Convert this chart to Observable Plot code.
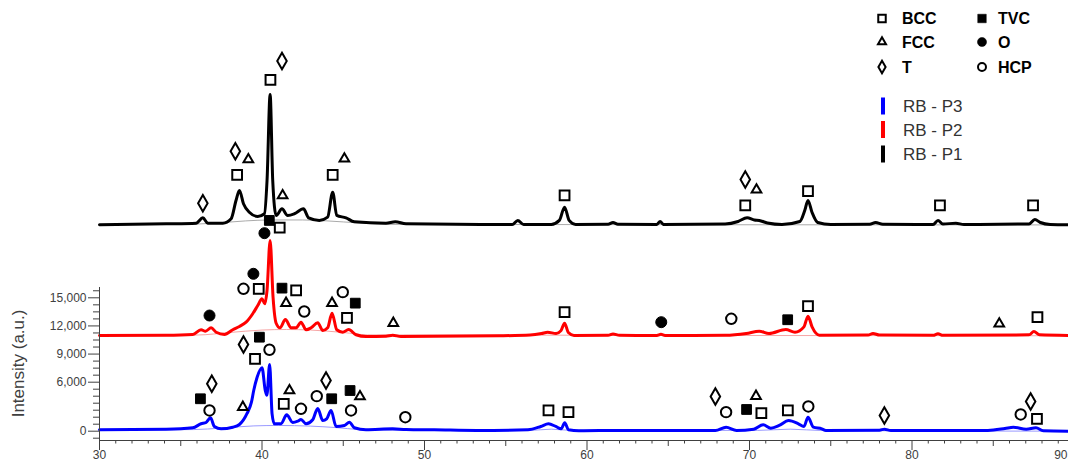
<!DOCTYPE html>
<html>
<head>
<meta charset="utf-8">
<script src="https://cdn.jsdelivr.net/npm/d3@7"></script>
<script src="https://cdn.jsdelivr.net/npm/@observablehq/plot@0.6"></script>
<style>
  body { margin: 0; background: #fff; }
  #chart { position: relative; width: 1068px; height: 463px; overflow: hidden;
           font-family: "Liberation Sans", Arial, sans-serif; }
  #chart svg { display: block; }
  .legend { position: absolute; left: 0; top: 0; pointer-events: none; }
</style>
</head>
<body>
<div id="chart"></div>
<script>
// ---- axes ----
const angleTicks = [30, 40, 50, 60, 70, 80, 90];
const angleMidTicks = [35, 45, 55, 65, 75, 85];
const intensityTicks = [0, 6000, 9000, 12000, 15000];

// ---- series ----
const seriesNames = ["RB - P3", "RB - P2", "RB - P1"];
const seriesColors = ["#0000ff", "#ff0000", "#000000"];
const backgroundColors = ["#9a9aff", "#f6a5a5", "#aaaaaa"];

// RB - P1 (2θ, counts), offset pattern on top
const p1 = [
  [30, 22800], [34.1, 22890], [35.95, 22960], [36.36, 23530], [36.66, 22960],
  [37.59, 22960], [38.1, 23430], [38.4, 25380], [38.61, 26450], [38.86, 25030],
  [39.22, 24130], [39.74, 23670], [40.15, 23960], [40.31, 27510], [40.5, 36680],
  [40.66, 27510], [40.87, 23780], [41.23, 24490], [41.58, 23780], [41.99, 23960],
  [42.55, 24490], [42.87, 23530], [43.53, 23250], [44.04, 23600], [44.35, 26260],
  [44.6, 23780], [45.17, 23530], [45.68, 23100], [47.63, 22960], [48.2, 23110],
  [48.86, 22890], [54.6, 22820], [55.4, 22820], [55.74, 23250], [56.1, 22820],
  [57.8, 22820], [58.3, 23250], [58.62, 24660], [58.9, 23250], [59.3, 22820],
  [61.3, 22850], [61.6, 23030], [61.9, 22850], [64.3, 22820], [64.5, 23140],
  [64.7, 22820], [68.5, 22870], [69.3, 23140], [69.85, 23530], [70.3, 23300],
  [70.6, 23250], [71.1, 22980], [72.0, 22820], [73.1, 23140], [73.4, 24310],
  [73.6, 25380], [73.85, 24100], [74.2, 23030], [75.0, 22820], [77.4, 22850],
  [77.76, 23030], [78.2, 22850], [81.3, 22820], [81.6, 23250], [81.9, 22870],
  [82.7, 22950], [83.2, 22820], [87.2, 22870], [87.56, 23350], [87.9, 23030],
  [88.5, 22820], [90, 22770]
];
const p1Background = [
  [30, 22800], [35, 22820], [37, 22950], [39, 23200], [40.5, 23300], [42.5, 23300],
  [44, 23200], [46, 22980], [48, 22830], [90, 22770]
];

// RB - P2
const p2 = [
  [30, 10980], [34.1, 11010], [35.74, 11090], [36.25, 11590], [36.52, 11440],
  [36.87, 11800], [37.18, 11330], [37.69, 11090], [38.2, 11590], [38.61, 11940],
  [39.02, 12400], [39.43, 13300], [39.74, 14180], [40.0, 14900], [40.17, 14360],
  [40.31, 15780], [40.5, 21110], [40.68, 15070], [40.87, 12290], [41.11, 11800],
  [41.44, 12690], [41.79, 11800], [42.1, 11800], [42.4, 12400], [42.71, 11590],
  [43.02, 11800], [43.43, 12340], [43.74, 11510], [44.04, 11800], [44.31, 13360],
  [44.6, 11590], [44.97, 11330], [45.33, 11620], [45.79, 11060], [46.4, 10870],
  [47.63, 10910], [48.04, 11010], [48.55, 10870], [54.6, 10950], [56.5, 11030],
  [57.2, 11190], [57.58, 11330], [58.1, 11190], [58.4, 11500], [58.62, 12290],
  [58.85, 11300], [59.2, 10990], [61.3, 11000], [61.6, 11140], [62.0, 11000],
  [64.3, 10990], [64.55, 11110], [64.8, 10990], [68.5, 11000], [69.8, 11190],
  [70.6, 11440], [71.2, 11190], [72.23, 11620], [72.8, 11330], [73.35, 11900],
  [73.6, 13040], [73.85, 11900], [74.3, 11010], [77.3, 11030], [77.6, 11200],
  [78.0, 11030], [81.3, 11000], [81.6, 11160], [81.9, 11000], [87.2, 11050],
  [87.5, 11400], [87.85, 11050], [90, 10980]
];
const p2Background = [
  [30, 10980], [36, 11030], [38, 11300], [40, 11560], [41.5, 11620], [43, 11560],
  [45, 11300], [46.5, 11050], [90, 10950]
];

// RB - P3
const p3 = [
  [30, 170], [34.1, 245], [35.74, 420], [36.25, 910], [36.56, 1070], [36.83, 1640],
  [37.07, 580], [37.48, 290], [38.2, 490], [38.61, 820], [39.08, 2170], [39.35, 3550],
  [39.49, 4980], [39.7, 6530], [40.0, 7540], [40.2, 5000], [40.3, 4400], [40.47, 7900],
  [40.62, 2130], [40.76, 910], [41.17, 910], [41.52, 2010], [41.89, 1070], [42.2, 1230],
  [42.4, 1430], [42.71, 910], [43.12, 1400], [43.43, 2780], [43.74, 1310], [43.98, 1520],
  [44.25, 2540], [44.56, 580], [45.07, 700], [45.38, 1100], [45.68, 420], [46.4, 170],
  [48.04, 290], [48.86, 210], [50.6, 170], [53.2, 90], [56.37, 170], [57.16, 580],
  [57.63, 910], [58.08, 580], [58.41, 290], [58.63, 1030], [58.86, 170], [59.5, 60],
  [62, 90], [67.9, 90], [68.56, 490], [69.2, 90], [70.26, 250], [70.84, 780],
  [71.31, 370], [71.83, 700], [72.41, 1310], [73.01, 910], [73.35, 580], [73.6, 1710],
  [73.93, 490], [74.45, 290], [74.7, 90], [78.0, 120], [78.3, 250], [78.7, 90],
  [84.67, 90], [85.72, 330], [86.24, 490], [87.03, 250], [87.63, 420], [88.08, 50],
  [90, 0]
];
const p3Background = [
  [30, 150], [35.8, 200], [37.5, 380], [39.5, 650], [41, 700], [43, 620], [44.5, 450],
  [46, 200], [48, 100], [56.5, 100], [57.8, 250], [59, 100], [70.5, 100], [72.5, 250],
  [74.5, 80], [90, 0]
];

// ---- phase identification ----
const phaseNames   = ["BCC", "FCC", "T", "TVC", "O", "HCP"];
const phaseSymbols = ["square", "triangle", "diamond", "square", "circle", "circle"];
const phaseFilled  = [false, false, false, true, true, false];
const phaseRadius  = [5.5, 3.6, 5, 5.5, 5.5, 5.2];

// peak labels: [phase, 2θ, label height]
const p1Peaks = [
  ["T", 36.36, 25090], ["BCC", 38.47, 28120], ["T", 38.36, 30640], ["FCC", 39.16, 29750],
  ["BCC", 40.52, 38250], ["T", 41.23, 40240], ["FCC", 41.27, 25910], ["BCC", 44.35, 28120],
  ["FCC", 45.07, 29830], ["BCC", 58.62, 25910], ["T", 69.74, 27620], ["FCC", 70.43, 26520],
  ["BCC", 69.74, 24850], ["BCC", 73.6, 26370], ["BCC", 81.72, 24850], ["BCC", 87.45, 24850]
];
const p2Peaks = [
  ["TVC", 40.45, 23250], ["O", 40.15, 21890], ["BCC", 41.09, 22470],
  ["O", 36.77, 13110], ["HCP", 38.86, 15960], ["BCC", 39.8, 15960], ["O", 39.47, 17560],
  ["TVC", 41.23, 16030], ["BCC", 42.1, 15780], ["FCC", 41.48, 14430], ["HCP", 42.6, 13540],
  ["FCC", 44.31, 14430], ["HCP", 44.97, 15600], ["TVC", 45.74, 14430], ["BCC", 45.23, 12870],
  ["FCC", 48.08, 12290], ["BCC", 58.62, 13470], ["O", 64.57, 12400], ["HCP", 68.88, 12760],
  ["TVC", 72.35, 12660], ["BCC", 73.6, 14110], ["FCC", 85.37, 12230], ["BCC", 87.72, 12930]
];
const p3Peaks = [
  ["TVC", 36.21, 3970], ["HCP", 36.77, 2540], ["T", 36.91, 5800], ["FCC", 38.82, 2940],
  ["T", 38.86, 10020], ["TVC", 39.84, 10800], ["BCC", 39.57, 8500], ["HCP", 40.46, 9460],
  ["BCC", 41.34, 3360], ["FCC", 41.69, 4980], ["HCP", 42.4, 2740], ["HCP", 43.37, 4290],
  ["T", 43.94, 6180], ["TVC", 44.29, 3970], ["TVC", 45.42, 4980], ["FCC", 46.03, 4250],
  ["HCP", 45.48, 2540], ["HCP", 48.82, 1710], ["BCC", 57.63, 2540], ["BCC", 58.86, 2330],
  ["T", 67.9, 4250], ["HCP", 68.56, 2330], ["TVC", 69.82, 2660], ["FCC", 70.4, 4290],
  ["BCC", 70.73, 2200], ["BCC", 72.36, 2540], ["HCP", 73.62, 3030], ["T", 78.3, 1920],
  ["HCP", 86.69, 2050], ["T", 87.3, 3640], ["BCC", 87.69, 1520]
];

// extent of the drawn y axis line and level of the x axis line
const yAxisTop = 16100;
const axisBase = -1140;
const yTitleAt = 8000;

const patterns = [p3, p2, p1];
const backgrounds = [p3Background, p2Background, p1Background];
const allPeaks = [...p3Peaks, ...p2Peaks, ...p1Peaks];

const marks = [];
backgrounds.forEach((b, i) => marks.push(
  Plot.line(b, {x: d => d[0], y: d => d[1], stroke: backgroundColors[i], strokeWidth: 1, curve: "monotone-x"})
));
patterns.forEach((p, i) => marks.push(
  Plot.line(p, {x: d => d[0], y: d => d[1], stroke: seriesColors[i], strokeWidth: 3,
                curve: "monotone-x", strokeLinejoin: "round"})
));
phaseNames.forEach((name, i) => marks.push(
  Plot.dot(allPeaks.filter(d => d[0] === name), {
    x: d => d[1], y: d => d[2], symbol: phaseSymbols[i], r: phaseRadius[i],
    fill: phaseFilled[i] ? "#000" : "none", stroke: "#000",
    strokeWidth: phaseFilled[i] ? 1 : 2
  })
));

const minorAngles = d3.range(31, 90).filter(v => v % 5 !== 0);
const minorIntensity = [
  ...d3.range(1, 7).map(k => k * 6000 / 7), -6000 / 7,
  ...d3.range(6750, 16000, 750).filter(v => v % 3000 !== 0)
];
// the last angle label sits against the right edge, so it is right-aligned there
const lastAngle = angleTicks[angleTicks.length - 1];

const chart = Plot.plot({
  width: 1068,
  height: 463,
  marginLeft: 99,
  marginRight: 0,
  marginTop: 0,
  marginBottom: 23,
  style: {fontFamily: "'Liberation Sans', Arial, sans-serif", fontSize: "12px", color: "#404040", background: "#fff"},
  x: {domain: [30, 90], range: [99, 1074]},
  y: {type: "linear", domain: [0, 6000, 15000], range: [430.7, 381.7, 297.3], clamp: false},
  marks: [
    ...marks,
    Plot.ruleX([30], {y1: axisBase, y2: yAxisTop, stroke: "#404040", strokeWidth: 1}),
    Plot.ruleY([axisBase], {stroke: "#404040", strokeWidth: 1}),
    Plot.axisX({ticks: angleTicks.slice(0, -1), tickSize: 10, tickPadding: 0, label: null, fontSize: 12, fill: "#404040"}),
    Plot.axisX({ticks: [lastAngle], tickSize: 10, tickFormat: () => "", label: null}),
    Plot.text([lastAngle], {
      x: d => d, text: d => String(d), frameAnchor: "bottom", lineAnchor: "top",
      textAnchor: "end", dx: -7, dy: 10, fontSize: 12, fill: "#404040"
    }),
    Plot.axisX({ticks: angleMidTicks, tickSize: 6, tickFormat: () => "", label: null}),
    Plot.axisX({ticks: minorAngles, tickSize: 3.5, tickFormat: () => "", label: null}),
    Plot.axisY({ticks: intensityTicks, tickSize: 11, tickPadding: 2, tickFormat: d3.format(","), label: null, fontSize: 12, fill: "#404040"}),
    Plot.axisY({ticks: minorIntensity, tickSize: 6, tickFormat: () => "", label: null}),
    Plot.text([{label: "Intensity (a.u.)", at: yTitleAt}], {
      text: "label", y: "at", frameAnchor: "left", dx: -81, rotate: -90,
      fontSize: 17, fill: "#404040", textAnchor: "middle"
    })
  ]
});

const root = document.getElementById("chart");
root.appendChild(chart);

// ---- legend ----
const symbolTypes = {square: d3.symbolSquare, triangle: d3.symbolTriangle, diamond: d3.symbolDiamond, circle: d3.symbolCircle};
const legendSize = {square: 56, triangle: 28, diamond: 45, circle: 50};
const legendCols = [[882, 902], [982, 998]];
const legendRows = [18.5, 42, 67];

const legend = d3.select(root).append("svg")
  .attr("class", "legend").attr("width", 1068).attr("height", 175)
  .style("font-family", "'Liberation Sans', Arial, sans-serif");

phaseNames.forEach((name, i) => {
  const col = legendCols[Math.floor(i / 3)], row = legendRows[i % 3];
  const filled = phaseFilled[i];
  const sym = phaseSymbols[i];
  legend.append("path")
    .attr("d", d3.symbol(symbolTypes[sym], filled ? legendSize[sym] * 1.3 : legendSize[sym])())
    .attr("transform", `translate(${col[0]},${row})`)
    .attr("fill", filled ? "#000" : "none")
    .attr("stroke", "#000").attr("stroke-width", filled ? 0.5 : 2);
  legend.append("text")
    .attr("x", col[1]).attr("y", row).attr("dy", "0.36em")
    .attr("font-size", 16).attr("font-weight", "bold").attr("fill", "#000")
    .text(name);
});

const seriesRows = [106, 129.5, 154];
seriesNames.forEach((name, i) => {
  legend.append("rect")
    .attr("x", 881).attr("y", seriesRows[i] - 8.5).attr("width", 4).attr("height", 17)
    .attr("fill", seriesColors[i]);
  legend.append("text")
    .attr("x", 903).attr("y", seriesRows[i]).attr("dy", "0.36em")
    .attr("font-size", 17).attr("fill", "#333")
    .text(name);
});
</script>
</body>
</html>
